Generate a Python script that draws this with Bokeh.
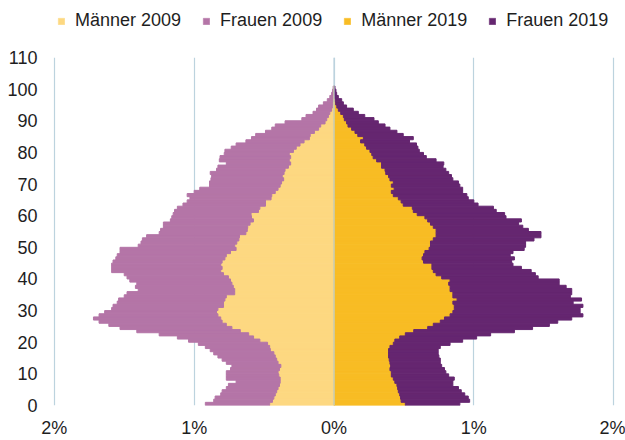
from bokeh.plotting import figure
from bokeh.layouts import column
from bokeh.models import (ColumnDataSource, Range1d, FixedTicker, Legend, LegendItem, Span)
from bokeh.embed import file_html
from bokeh.resources import INLINE

# Age groups (years)
ages = list(range(101))

# Share of total population in % per single year of age
maenner_2009 = [0.46, 0.44, 0.43, 0.42, 0.41, 0.40, 0.39, 0.385, 0.385, 0.395,
                0.40, 0.39, 0.38, 0.40, 0.41, 0.42, 0.43, 0.455, 0.46, 0.475,
                0.53, 0.575, 0.61, 0.67, 0.73, 0.77, 0.80, 0.81, 0.83, 0.84,
                0.83, 0.79, 0.79, 0.78, 0.77, 0.71, 0.71, 0.72, 0.73, 0.74,
                0.755, 0.79, 0.81, 0.80, 0.81, 0.80, 0.78, 0.77, 0.74, 0.70,
                0.71, 0.695, 0.68, 0.676, 0.63, 0.62, 0.617, 0.60, 0.576, 0.59,
                0.593, 0.54, 0.53, 0.49, 0.49, 0.45, 0.445, 0.42, 0.40, 0.385,
                0.375, 0.36, 0.37, 0.357, 0.35, 0.326, 0.31, 0.32, 0.31, 0.32,
                0.29, 0.27, 0.243, 0.214, 0.176, 0.17, 0.14, 0.11, 0.095, 0.064,
                0.052, 0.04, 0.03, 0.017, 0.012, 0.009, 0.006, 0.004, 0.003, 0.002,
                0.002]
frauen_2009 = [0.46, 0.42, 0.42, 0.39, 0.39, 0.37, 0.365, 0.315, 0.385, 0.375,
               0.37, 0.35, 0.35, 0.37, 0.39, 0.41, 0.43, 0.43, 0.46, 0.495,
               0.51, 0.545, 0.64, 0.74, 0.80, 0.84, 0.88, 0.91, 0.85, 0.80,
               0.76, 0.79, 0.76, 0.76, 0.73, 0.77, 0.69, 0.70, 0.68, 0.72,
               0.725, 0.71, 0.78, 0.79, 0.78, 0.78, 0.78, 0.78, 0.79, 0.83,
               0.69, 0.685, 0.69, 0.664, 0.62, 0.62, 0.603, 0.62, 0.594, 0.57,
               0.557, 0.60, 0.59, 0.59, 0.56, 0.58, 0.605, 0.58, 0.56, 0.505,
               0.515, 0.52, 0.505, 0.528, 0.49, 0.504, 0.46, 0.50, 0.505, 0.465,
               0.49, 0.465, 0.457, 0.416, 0.414, 0.39, 0.35, 0.335, 0.325, 0.286,
               0.178, 0.16, 0.12, 0.108, 0.098, 0.067, 0.042, 0.026, 0.014, 0.008,
               0.004]
maenner_2019 = [0.51, 0.48, 0.476, 0.47, 0.46, 0.455, 0.45, 0.435, 0.424, 0.41,
                0.41, 0.40, 0.405, 0.40, 0.395, 0.39, 0.39, 0.39, 0.40, 0.424,
                0.435, 0.47, 0.51, 0.57, 0.67, 0.71, 0.76, 0.79, 0.83, 0.85,
                0.86, 0.86, 0.85, 0.88, 0.85, 0.85, 0.83, 0.83, 0.82, 0.83,
                0.77, 0.73, 0.71, 0.70, 0.70, 0.64, 0.63, 0.64, 0.65, 0.68,
                0.69, 0.69, 0.71, 0.73, 0.73, 0.73, 0.71, 0.69, 0.67, 0.65,
                0.595, 0.567, 0.56, 0.495, 0.48, 0.46, 0.424, 0.41, 0.43, 0.41,
                0.424, 0.40, 0.39, 0.37, 0.365, 0.34, 0.34, 0.305, 0.28, 0.27,
                0.257, 0.233, 0.22, 0.19, 0.21, 0.17, 0.15, 0.126, 0.10, 0.09,
                0.074, 0.067, 0.048, 0.031, 0.02, 0.012, 0.008, 0.005, 0.003, 0.002,
                0.002]
frauen_2019 = [0.39, 0.49, 0.484, 0.465, 0.45, 0.435, 0.40, 0.415, 0.436, 0.41,
               0.39, 0.39, 0.365, 0.36, 0.365, 0.36, 0.355, 0.355, 0.36, 0.406,
               0.485, 0.55, 0.61, 0.72, 0.75, 0.83, 0.84, 0.91, 0.95, 0.91,
               0.90, 0.92, 0.86, 0.89, 0.84, 0.85, 0.87, 0.83, 0.79, 0.78,
               0.69, 0.71, 0.70, 0.64, 0.58, 0.63, 0.66, 0.62, 0.63, 0.68,
               0.68, 0.68, 0.72, 0.75, 0.75, 0.66, 0.64, 0.63, 0.67, 0.58,
               0.625, 0.593, 0.58, 0.535, 0.52, 0.50, 0.526, 0.51, 0.49, 0.49,
               0.466, 0.45, 0.45, 0.45, 0.435, 0.44, 0.445, 0.425, 0.38, 0.37,
               0.353, 0.367, 0.37, 0.35, 0.357, 0.325, 0.30, 0.274, 0.265, 0.227,
               0.212, 0.153, 0.126, 0.107, 0.07, 0.055, 0.047, 0.026, 0.016, 0.012,
               0.005]

series_labels = ["Männer 2009", "Frauen 2009", "Männer 2019", "Frauen 2019"]
series_colors = ["#FDD881", "#B475A7", "#F8BC24", "#652670"]
x_ticks = [-2, -1, 0, 1, 2]
x_tick_labels = ["2%", "1%", "0%", "1%", "2%"]
y_ticks = list(range(0, 111, 10))

FONT = "Liberation Sans"
GRID = "#BCD3DE"
TEXT = "#1e1e1e"

src = ColumnDataSource(dict(
    age=[a + 0.5 for a in ages],
    m09=[-v for v in maenner_2009],
    f09=[-v for v in frauen_2009],
    m19=maenner_2019,
    f19=frauen_2019,
))

# ---- main chart ----
p = figure(width=625, height=400,
           x_range=Range1d(-2.02, 2.02), y_range=Range1d(0, 110),
           output_backend="svg", toolbar_location=None,
           min_border_left=51, min_border_right=9,
           min_border_top=17, min_border_bottom=32)
p.outline_line_color = None
p.background_fill_color = "white"

left = p.hbar_stack(["m09", "f09"], y="age", height=1.0, source=src,
                    fill_color=series_colors[:2], line_color=series_colors[:2],
                    line_width=1.0)
right = p.hbar_stack(["m19", "f19"], y="age", height=1.0, source=src,
                     fill_color=series_colors[2:], line_color=series_colors[2:],
                     line_width=1.0)

# zero line drawn above the bars
p.add_layout(Span(location=0, dimension="height", line_color=GRID, line_width=1.2,
                  level="overlay"))

p.xaxis.ticker = FixedTicker(ticks=x_ticks)
p.xaxis.major_label_overrides = {t: l for t, l in zip(x_ticks, x_tick_labels)}
p.yaxis.ticker = FixedTicker(ticks=y_ticks)
for ax in (p.xaxis[0], p.yaxis[0]):
    ax.axis_line_color = None
    ax.major_tick_line_color = None
    ax.minor_tick_line_color = None
    ax.major_tick_out = 0
    ax.major_tick_in = 0
    ax.major_label_text_font = FONT
    ax.major_label_text_font_size = "18px"
    ax.major_label_text_color = TEXT
p.xaxis.major_label_standoff = 12
p.yaxis.major_label_standoff = 14

p.xgrid.ticker = FixedTicker(ticks=x_ticks)
p.xgrid.grid_line_color = GRID
p.xgrid.grid_line_width = 1.2
p.ygrid.grid_line_color = None

# ---- legend strip above the chart ----
# same stacked bars, placed far outside this strip's visible ranges, serve as legend swatches
lg = figure(width=625, height=40, x_range=Range1d(500, 501), y_range=Range1d(5000, 5001),
            output_backend="svg", toolbar_location=None,
            x_axis_location=None, y_axis_location=None,
            min_border_left=0, min_border_right=0, min_border_top=0, min_border_bottom=0)
lg.frame_align = False
lg.outline_line_color = None
lg.xgrid.grid_line_color = None
lg.ygrid.grid_line_color = None
sw_left = lg.hbar_stack(["m09", "f09"], y="age", height=1.0, source=src,
                        fill_color=series_colors[:2], line_color=series_colors[:2],
                        line_width=0.5)
sw_right = lg.hbar_stack(["m19", "f19"], y="age", height=1.0, source=src,
                         fill_color=series_colors[2:], line_color=series_colors[2:],
                         line_width=0.5)
swatches = sw_left + sw_right
legend = Legend(items=[LegendItem(label=l, renderers=[r]) for l, r in zip(series_labels, swatches)],
                orientation="horizontal", location=(57, 9),
                glyph_width=8, glyph_height=8, label_standoff=10, spacing=21,
                padding=0, margin=0, border_line_color=None, background_fill_alpha=0,
                label_text_font=FONT, label_text_font_size="18px", label_text_color=TEXT)
lg.add_layout(legend, "center")

layout = column(lg, p, spacing=0)
open("out.html", "w").write(file_html(layout, INLINE))
